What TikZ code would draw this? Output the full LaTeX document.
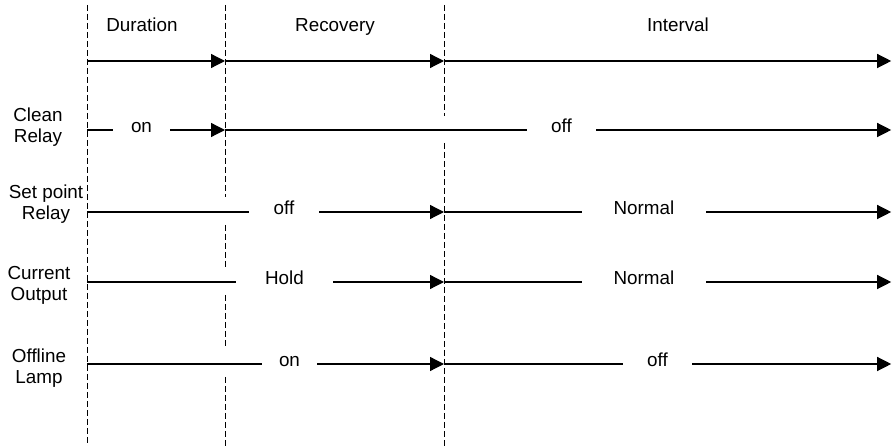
\documentclass[tikz,border=0pt]{standalone}
\usepackage{fontspec}
\setmainfont{Liberation Sans}
\usepackage{tikz}
\usetikzlibrary{arrows.meta,positioning}

\begin{document}
\begin{tikzpicture}[
    every node/.style={font=\fontsize{13.4}{14.9}\selectfont},
    statelbl/.style={inner sep=0pt, text height=0.6em, text depth=0.18em},
    rowlbl/.style={align=center, inner sep=0pt},
    wire/.style={line width=0.9pt, draw=black},
    direction/.style={-{Triangle[length=0.35cm, width=0.35cm]}, line width=0.9pt, draw=black},
    guide/.style={dash pattern=on 4.3pt off 2.1pt, line width=0.7pt}
]
    \useasboundingbox (0,0) rectangle (22.3,-11.15);

    % Time marks on every row
    \foreach \r/\y in {top/-1.525, clean/-3.25, setp/-5.3, curr/-7.05, lamp/-9.1} {
        \coordinate (\r0) at (2.175,\y);
        \coordinate (\r1) at (5.625,\y);
        \coordinate (\r2) at (11.1,\y);
        \coordinate (\r3) at (22.28,\y);
    }

    % Dashed phase borders
    \draw[guide] (2.175,-0.125) -- (2.175,-11.15);
    \foreach \ya/\yb in {-0.125/-4.925, -5.625/-6.675, -7.375/-8.7, -9.425/-11.15}
        \draw[guide] (5.625,\ya) -- (5.625,\yb);
    \draw[guide] (11.1,-0.125) -- (11.1,-2.9);
    \draw[guide] (11.1,-3.575) -- (11.1,-11.15);

    % Phase names
    \node[anchor=base] (dur) at (3.55,-0.8) {Duration};
    \node[anchor=base] (rec) at (8.375,-0.8) {Recovery};
    \node[anchor=base] (intv) at (16.95,-0.8) {Interval};

    % Row names
    \node[rowlbl] (lclean) at (0.95,-3.175) {Clean\\Relay};
    \node[rowlbl] (lsetp) at (1.15,-5.1) {Set point\\Relay};
    \node[rowlbl] (lcurr) at (0.975,-7.14) {Current\\Output};
    \node[rowlbl] (llamp) at (0.975,-9.2) {Offline\\Lamp};

    % Phase arrows
    \draw[direction] (top0) -- (top1);
    \draw[direction] (top1) -- (top2);
    \draw[direction] (top2) -- (top3);

    % Clean relay
    \node[statelbl, minimum width=1.425cm] (cleanon) at (3.5375,-3.25) {on};
    \node[statelbl, minimum width=1.725cm] (cleanoff) at (14.0375,-3.25) {off};
    \draw[wire] (clean0) -- (cleanon);
    \draw[direction] (cleanon) -- (clean1);
    \draw[wire] (clean1) -- (cleanoff);
    \draw[direction] (cleanoff) -- (clean3);

    % Set point relay
    \node[statelbl, minimum width=1.75cm] (setpoff) at (7.1,-5.3) {off};
    \node[statelbl, minimum width=3.1cm] (setpnorm) at (16.1,-5.3) {Normal};
    \draw[wire] (setp0) -- (setpoff);
    \draw[direction] (setpoff) -- (setp2);
    \draw[wire] (setp2) -- (setpnorm);
    \draw[direction] (setpnorm) -- (setp3);

    % Current output
    \node[statelbl, minimum width=2.425cm] (currhold) at (7.1125,-7.05) {Hold};
    \node[statelbl, minimum width=3.1cm] (currnorm) at (16.1,-7.05) {Normal};
    \draw[wire] (curr0) -- (currhold);
    \draw[direction] (currhold) -- (curr2);
    \draw[wire] (curr2) -- (currnorm);
    \draw[direction] (currnorm) -- (curr3);

    % Offline lamp
    \node[statelbl, minimum width=1.375cm] (lampon) at (7.2375,-9.1) {on};
    \node[statelbl, minimum width=1.725cm] (lampoff) at (16.4375,-9.1) {off};
    \draw[wire] (lamp0) -- (lampon);
    \draw[direction] (lampon) -- (lamp2);
    \draw[wire] (lamp2) -- (lampoff);
    \draw[direction] (lampoff) -- (lamp3);
\end{tikzpicture}
\end{document}
